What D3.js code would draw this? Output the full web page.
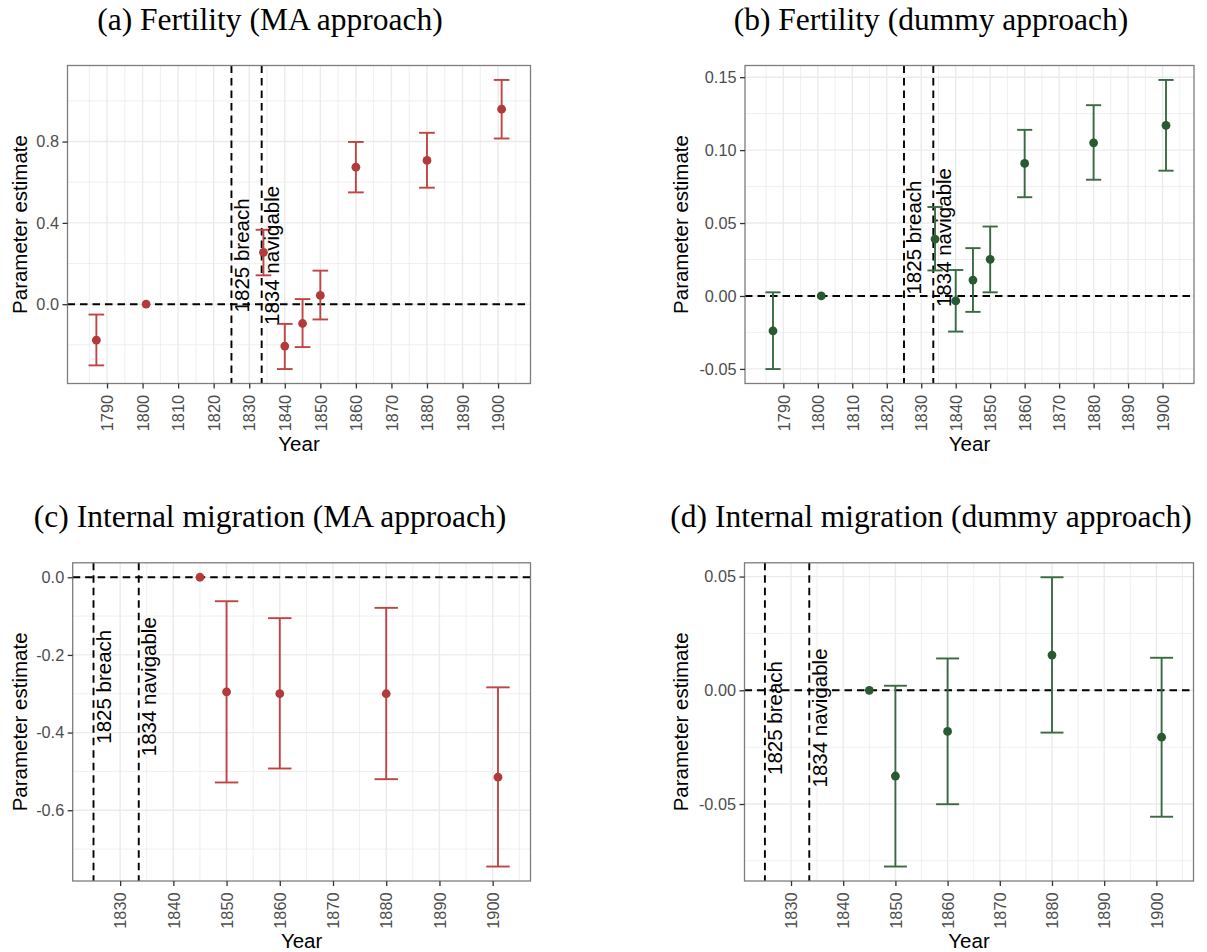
<!DOCTYPE html>
<html><head><meta charset="utf-8">
<script src="https://cdn.jsdelivr.net/npm/d3@7"></script>
<style>
  body { margin: 0; background: #fff; }
  svg { display: block; }
</style>
</head><body>
<script>
// ---- Estimates: fertility (census years, 1801 = reference) ----
const yearsFert   = [1787, 1801, 1834, 1840, 1845, 1850, 1860, 1880, 1901];
const estFertMA   = [-0.177, 0, 0.255, -0.206, -0.095, 0.043, 0.674, 0.707, 0.959];
const lowFertMA   = [-0.301, null, 0.142, -0.319, -0.211, -0.075, 0.550, 0.573, 0.815];
const highFertMA  = [-0.051, null, 0.366, -0.097, 0.025, 0.165, 0.798, 0.843, 1.103];

const estFertDum  = [-0.0239, 0, 0.0390, -0.0034, 0.0109, 0.0251, 0.0909, 0.1050, 0.1169];
const lowFertDum  = [-0.0501, null, 0.0175, -0.0244, -0.0109, 0.0025, 0.0677, 0.0797, 0.0859];
const highFertDum = [0.0025, null, 0.0610, 0.0178, 0.0328, 0.0476, 0.1139, 0.1308, 0.1481];

// ---- Estimates: internal migration (1845 = reference) ----
const yearsMig    = [1845, 1850, 1860, 1880, 1901];
const estMigMA    = [0, -0.295, -0.2998, -0.300, -0.5148];
const lowMigMA    = [null, -0.5285, -0.4925, -0.520, -0.745];
const highMigMA   = [null, -0.0617, -0.1053, -0.0788, -0.2835];

const estMigDum   = [0, -0.0377, -0.0181, 0.0155, -0.0206];
const lowMigDum   = [null, -0.0775, -0.0501, -0.0186, -0.0556];
const highMigDum  = [null, 0.0020, 0.0140, 0.0497, 0.0143];

// ---- Events marked with vertical lines ----
const eventYears  = [1825, 1833.5];
const eventLabels = ["1825 breach", "1834 navigable"];

// ---- Axis breaks ----
const xTicksFert = [1790, 1800, 1810, 1820, 1830, 1840, 1850, 1860, 1870, 1880, 1890, 1900];
const xTicksMig  = [1830, 1840, 1850, 1860, 1870, 1880, 1890, 1900];
const yTicksFertMA  = [0, 0.4, 0.8];
const yTicksFertDum = [-0.05, 0, 0.05, 0.10, 0.15];
const yTicksMigMA   = [-0.6, -0.4, -0.2, 0];
const yTicksMigDum  = [-0.05, 0, 0.05];

const titles = [
  "(a) Fertility (MA approach)",
  "(b) Fertility (dummy approach)",
  "(c) Internal migration (MA approach)",
  "(d) Internal migration (dummy approach)"
];

const RED = { point: "#b23a3a", bar: "#bf4545" };
const GREEN = { point: "#285a31", bar: "#3a6a42" };

const loc = d3.formatLocale({ decimal: ".", thousands: ",", grouping: [3], currency: ["", ""], minus: "-" });

const W = 1207, H = 952;
const svg = d3.select("body").append("svg").attr("width", W).attr("height", H);
svg.append("rect").attr("width", W).attr("height", H).attr("fill", "#fff");

const panels = [
  { title: titles[0], years: yearsFert, est: estFertMA, low: lowFertMA, high: highFertMA,
    xTicks: xTicksFert, yTicks: yTicksFertMA, fmt: loc.format(".1f"), col: RED,
    box: { x0: 67.5, x1: 530.5, y0: 65.5, y1: 383.5 }, titleX: 270, titleY: 30, yTitleX: 26.5, xTitleY: 450.5 },
  { title: titles[1], years: yearsFert, est: estFertDum, low: lowFertDum, high: highFertDum,
    xTicks: xTicksFert, yTicks: yTicksFertDum, fmt: loc.format(".2f"), col: GREEN,
    box: { x0: 745, x1: 1194, y0: 65.5, y1: 383.5 }, titleX: 931, titleY: 30, yTitleX: 688, xTitleY: 450.5 },
  { title: titles[2], years: yearsMig, est: estMigMA, low: lowMigMA, high: highMigMA,
    xTicks: xTicksMig, yTicks: yTicksMigMA, fmt: loc.format(".1f"), col: RED,
    box: { x0: 72.7, x1: 530.5, y0: 562.8, y1: 881 }, titleX: 270, titleY: 527, yTitleX: 26.5, xTitleY: 948 },
  { title: titles[3], years: yearsMig, est: estMigDum, low: lowMigDum, high: highMigDum,
    xTicks: xTicksMig, yTicks: yTicksMigDum, fmt: loc.format(".2f"), col: GREEN,
    box: { x0: 744.5, x1: 1193.5, y0: 562.8, y1: 881 }, titleX: 931, titleY: 527, yTitleX: 688, xTitleY: 948 }
];

const HALF_W = 2.2;          // half width of error bar caps, in years
const SANS = "'Liberation Sans', Arial, sans-serif";

function minorBreaks(ticks, domain) {
  const step = ticks[1] - ticks[0];
  const out = [];
  for (let v = ticks[0] - step / 2; v <= domain[1] + 1e-9; v += step) {
    if (v >= domain[0] - 1e-9) out.push(v);
  }
  return out.filter(v => !ticks.some(t => Math.abs(t - v) < 1e-9));
}

function drawPanel(p) {
  const b = p.box;
  const g = svg.append("g");
  const rows = p.years.map((yr, i) => ({ yr, est: p.est[i], low: p.low[i], high: p.high[i] }));
  const bars = rows.filter(r => r.low != null);

  // scale limits with 5% expansion, trained on every layer
  const xVals = [...rows.map(r => r.yr), ...bars.flatMap(r => [r.yr - HALF_W, r.yr + HALF_W]), ...eventYears];
  const [xa, xb] = d3.extent(xVals);
  const xd = [xa - (xb - xa) * 0.05, xb + (xb - xa) * 0.05];
  const yVals = [...rows.map(r => r.est), ...bars.flatMap(r => [r.low, r.high]), 0];
  const [ya, yb] = d3.extent(yVals);
  const yd = [ya - (yb - ya) * 0.05, yb + (yb - ya) * 0.05];

  const x = d3.scaleLinear().domain(xd).range([b.x0, b.x1]);
  const y = d3.scaleLinear().domain(yd).range([b.y1, b.y0]);

  // gridlines
  const grid = g.append("g").attr("stroke", "#ebebeb").attr("fill", "none");
  minorBreaks(p.xTicks, xd).forEach(v => grid.append("line")
    .attr("x1", x(v)).attr("x2", x(v)).attr("y1", b.y0).attr("y2", b.y1).attr("stroke-width", 0.8));
  minorBreaks(p.yTicks, yd).forEach(v => grid.append("line")
    .attr("y1", y(v)).attr("y2", y(v)).attr("x1", b.x0).attr("x2", b.x1).attr("stroke-width", 0.8));
  p.xTicks.forEach(v => grid.append("line")
    .attr("x1", x(v)).attr("x2", x(v)).attr("y1", b.y0).attr("y2", b.y1).attr("stroke-width", 1.4));
  p.yTicks.forEach(v => grid.append("line")
    .attr("y1", y(v)).attr("y2", y(v)).attr("x1", b.x0).attr("x2", b.x1).attr("stroke-width", 1.4));

  // event lines and zero line
  g.selectAll(".vline").data(eventYears).join("line")
    .attr("x1", d => x(d)).attr("x2", d => x(d)).attr("y1", b.y0).attr("y2", b.y1)
    .attr("stroke", "#000").attr("stroke-width", 1.9).attr("stroke-dasharray", "7.5,5");
  g.append("line").attr("x1", b.x0).attr("x2", b.x1).attr("y1", y(0)).attr("y2", y(0))
    .attr("stroke", "#000").attr("stroke-width", 1.9).attr("stroke-dasharray", "7.5,5");

  // error bars
  const eb = g.append("g").attr("stroke", p.col.bar).attr("stroke-width", 1.9).attr("fill", "none");
  bars.forEach(r => {
    eb.append("line").attr("x1", x(r.yr)).attr("x2", x(r.yr)).attr("y1", y(r.low)).attr("y2", y(r.high));
    [r.low, r.high].forEach(v => eb.append("line")
      .attr("x1", x(r.yr - HALF_W)).attr("x2", x(r.yr + HALF_W)).attr("y1", y(v)).attr("y2", y(v)));
  });

  // point estimates
  g.selectAll(".pt").data(rows).join("circle")
    .attr("cx", d => x(d.yr)).attr("cy", d => y(d.est)).attr("r", 4.4).attr("fill", p.col.point);

  // event labels, centred on the mean estimate
  const labY = y(d3.mean(p.est));
  eventYears.forEach((ev, i) => {
    g.append("text").attr("transform", `translate(${x(ev) + 17.5},${labY}) rotate(-90)`)
      .attr("text-anchor", "middle").attr("font-family", SANS).attr("font-size", 20.5)
      .attr("fill", "#000").text(eventLabels[i]);
  });

  // panel border
  g.append("rect").attr("x", b.x0).attr("y", b.y0).attr("width", b.x1 - b.x0).attr("height", b.y1 - b.y0)
    .attr("fill", "none").attr("stroke", "#7d7d7d").attr("stroke-width", 1.3);

  // axes
  const xAxis = g.append("g").attr("transform", `translate(0,${b.y1})`)
    .call(d3.axisBottom(x).tickValues(p.xTicks).tickSize(5).tickFormat(d3.format("d")));
  xAxis.select(".domain").remove();
  xAxis.selectAll(".tick line").attr("stroke", "#333").attr("stroke-width", 1.3);
  xAxis.selectAll(".tick text")
    .attr("transform", "rotate(-90)").attr("x", -11.5).attr("y", 0).attr("dy", "0.35em")
    .attr("text-anchor", "end").attr("fill", "#4d4d4d")
    .attr("font-family", SANS).attr("font-size", 16.3);

  const yAxis = g.append("g").attr("transform", `translate(${b.x0},0)`)
    .call(d3.axisLeft(y).tickValues(p.yTicks).tickSize(5).tickPadding(3.5).tickFormat(p.fmt));
  yAxis.select(".domain").remove();
  yAxis.selectAll(".tick line").attr("stroke", "#333").attr("stroke-width", 1.3);
  yAxis.selectAll(".tick text").attr("fill", "#4d4d4d")
    .attr("font-family", SANS).attr("font-size", 16.3);

  // axis titles
  g.append("text").attr("x", (b.x0 + b.x1) / 2).attr("y", p.xTitleY).attr("text-anchor", "middle")
    .attr("font-family", SANS).attr("font-size", 20.5).attr("fill", "#000").text("Year");
  g.append("text").attr("transform", `translate(${p.yTitleX},${(b.y0 + b.y1) / 2}) rotate(-90)`)
    .attr("text-anchor", "middle").attr("font-family", SANS).attr("font-size", 20.5)
    .attr("fill", "#000").text("Parameter estimate");

  // sub-figure caption
  svg.append("text").attr("x", p.titleX).attr("y", p.titleY).attr("text-anchor", "middle")
    .attr("font-family", "'Liberation Serif', 'Times New Roman', serif").attr("font-size", 31.5)
    .attr("fill", "#000").text(p.title);
}

panels.forEach(drawPanel);
</script>
</body></html>
